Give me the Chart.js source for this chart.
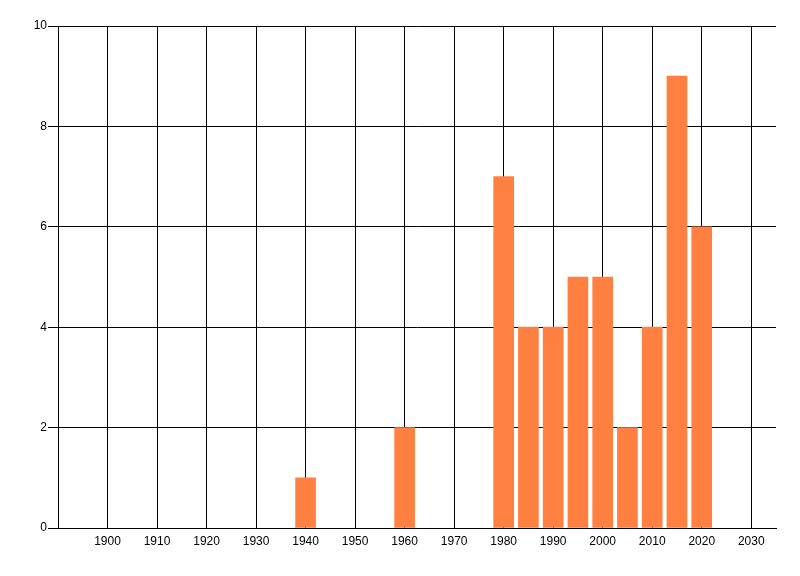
<!DOCTYPE html>
<html>
<head>
<meta charset="utf-8">
<script src="https://cdn.jsdelivr.net/npm/chart.js@4/dist/chart.umd.min.js"></script>
<style>
  html, body { margin: 0; padding: 0; background: #fff; }
  #wrap { width: 800px; height: 576px; }
</style>
</head>
<body>
<div id="wrap"><canvas id="myChart"></canvas></div>
<script>
// data
let years = [1940, 1960, 1980, 1985, 1990, 1995, 2000, 2005, 2010, 2015, 2020];
let counts = [1, 2, 7, 4, 4, 5, 5, 2, 4, 9, 6];
let xTicks = [1900, 1910, 1920, 1930, 1940, 1950, 1960, 1970, 1980, 1990, 2000, 2010, 2020, 2030];
let yTicks = [0, 2, 4, 6, 8, 10];

let points = years.map((y, i) => ({ x: y, y: counts[i] }));

let ctx = document.getElementById('myChart').getContext('2d');
let chart = new Chart(ctx, {
  type: 'bar',
  data: {
    datasets: [{
      data: points,
      backgroundColor: '#FF8040',
      borderWidth: 0,
      barThickness: 20
    }]
  },
  options: {
    responsive: true,
    maintainAspectRatio: false,
    animation: false,
    layout: { padding: { top: 26, right: 24, left: 0, bottom: 0 } },
    plugins: {
      legend: { display: false },
      tooltip: { enabled: false }
    },
    scales: {
      x: {
        type: 'linear',
        min: 1890,
        max: 2035,
        offset: false,
        afterBuildTicks: s => { s.ticks = xTicks.map(v => ({ value: v })); },
        afterFit: s => { s.height = 48; },
        grid: { color: '#000', lineWidth: 1, drawTicks: false, offset: false },
        border: { color: '#000', width: 1 },
        ticks: {
          color: '#000',
          padding: 6,
          maxRotation: 0,
          autoSkip: false,
          callback: v => String(v),
          font: { family: 'Liberation Sans', size: 12 }
        }
      },
      y: {
        min: 0,
        max: 10,
        afterBuildTicks: s => { s.ticks = yTicks.map(v => ({ value: v })); },
        afterFit: s => { s.width = 58; },
        grid: { color: '#000', lineWidth: 1, drawTicks: true, tickLength: 10 },
        border: { color: '#000', width: 1 },
        ticks: {
          color: '#000',
          padding: 1,
          callback: v => String(v),
          font: { family: 'Liberation Sans', size: 12 }
        }
      }
    }
  }
});
</script>
</body>
</html>
